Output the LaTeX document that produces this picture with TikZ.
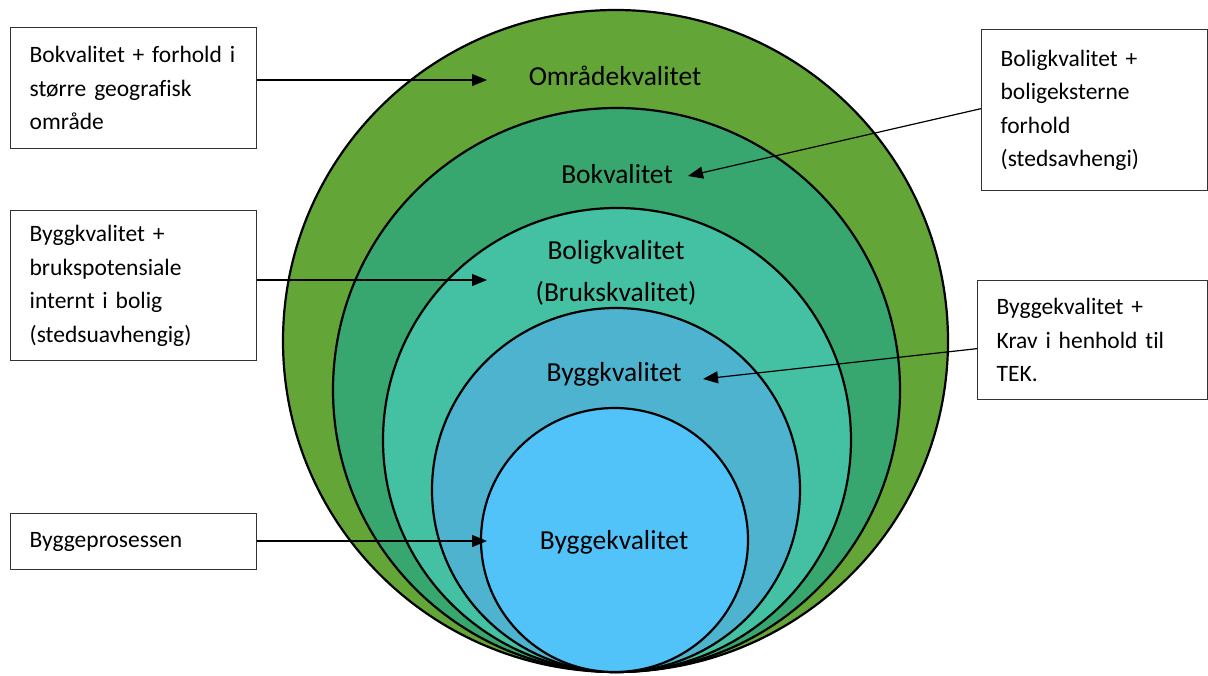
\documentclass[tikz,border=0pt]{standalone}
\usepackage{fontspec}
\setmainfont{Carlito}[Ligatures=NoCommon]
\usetikzlibrary{arrows.meta}

\definecolor{cOmr}{HTML}{63A537}
\definecolor{cBo}{HTML}{37A76F}
\definecolor{cBolig}{HTML}{44C1A3}
\definecolor{cBygg}{HTML}{4EB3CF}
\definecolor{cByggeK}{HTML}{51C3F9}

\tikzset{
  ring/.style={draw=black, line width=2.2pt},
  ringlabel/.style={font=\fontsize{27.5}{42}\selectfont, align=center, inner sep=0pt},
  notebox/.style={draw=black!80, line width=1.3pt, fill=white,
    font=\fontsize{23.5}{33.5}\selectfont, align=left,
    inner xsep=19pt, inner ysep=0pt, anchor=north west},
  pointer/.style={draw=black, line width=1.2pt, -{Triangle[length=15pt,width=12pt]}}
}

\begin{document}
\begin{tikzpicture}[x=1pt, y=-1pt]
\useasboundingbox (0,0) rectangle (1208,675);

% nested quality levels, all touching at the bottom
\draw[ring, fill=cOmr]    (615.5,341) ellipse [x radius=332.5, y radius=331];
\draw[ring, fill=cBo]     (616.5,390) ellipse [x radius=283.5, y radius=282];
\draw[ring, fill=cBolig]  (617,440)   ellipse [x radius=234,   y radius=232];
\draw[ring, fill=cBygg]   (616,490)   ellipse [x radius=184,   y radius=182];
\draw[ring, fill=cByggeK] (614.5,540) ellipse [x radius=133.5, y radius=132];

\node[ringlabel] (lOmr)   at (615,76)  {Områdekvalitet};
\node[ringlabel] (lBo)    at (617,174) {Bokvalitet};
\node[ringlabel] (lBolig) at (616,273) {Boligkvalitet\\(Brukskvalitet)};
\node[ringlabel] (lBygg)  at (614,374) {Byggkvalitet};
\node[ringlabel] (lByggeK) at (614,542) {Byggekvalitet};

% explanatory boxes
\node[notebox, text width=208pt, minimum height=121pt] (b1) at (10,27)
  {Bokvalitet + forhold i\\større geografisk\\område};
\node[notebox, text width=188pt, minimum height=161pt] (b2) at (981,29)
  {Boligkvalitet +\\boligeksterne\\forhold\\(stedsavhengi)};
\node[notebox, text width=208pt, minimum height=150pt] (b3) at (10,210)
  {Byggkvalitet +\\brukspotensiale\\internt i bolig\\(stedsuavhengig)};
\node[notebox, text width=192pt, minimum height=119pt] (b4) at (977,280)
  {Byggekvalitet +\\Krav i henhold til\\TEK.};
\node[notebox, text width=208pt, minimum height=56pt] (b5) at (10,513)
  {Byggeprosessen};

% arrow targets
\coordinate (t1) at (487,80);
\coordinate (t2) at (688,176);
\coordinate (t3) at (487,280);
\coordinate (t4) at (703,379);
\coordinate (t5) at (487,541);

\draw[pointer] (b1.east |- t1) -- (t1);
\draw[pointer] ([yshift=1.5pt]b2.west) -- (t2);
\draw[pointer] (b3.east |- t3) -- (t3);
\draw[pointer] ([yshift=-8.5pt]b4.west) -- (t4);
\draw[pointer] (b5.east |- t5) -- (t5);
\end{tikzpicture}
\end{document}
